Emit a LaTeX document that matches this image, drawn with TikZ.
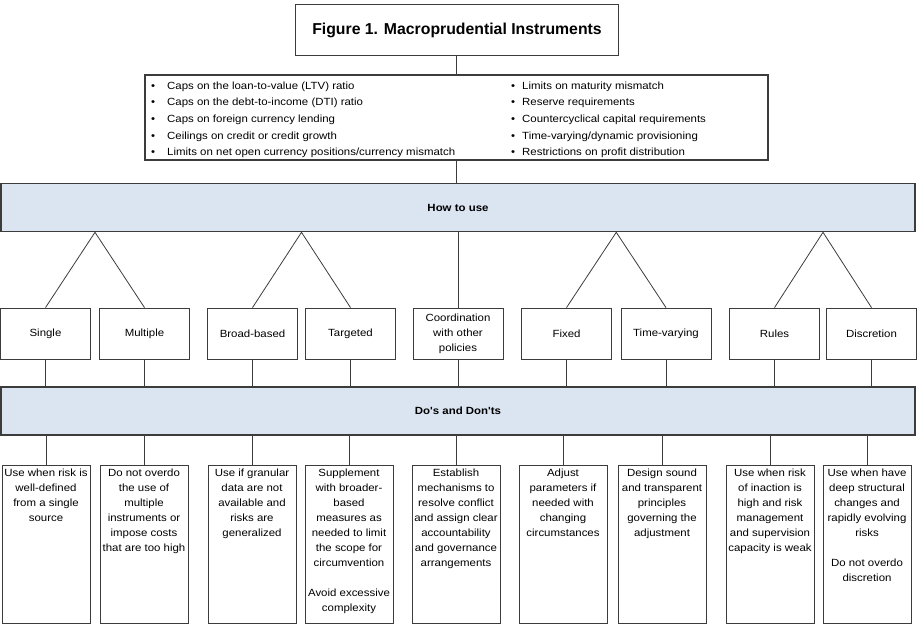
\documentclass[tikz,border=0pt]{standalone}
\usepackage{fontspec}
\setmainfont{Liberation Sans}
\newfontfamily\widesans{Liberation Sans}[FakeStretch=1.1]
\usetikzlibrary{positioning, calc}

\definecolor{bandfill}{RGB}{219,229,241}
\definecolor{edgegray}{RGB}{60,60,60}

% fixed-height text column for the lower boxes
\newcommand{\notetext}[1]{\parbox[t][150pt][t]{86pt}{\centering #1}}

\begin{document}
\begin{tikzpicture}[
    x=1pt, y=-1pt,
    every node/.style={inner sep=0pt},
    titlebox/.style={rectangle, draw=edgegray, line width=1.1pt, minimum width=323pt, minimum height=51pt, font=\fontsize{15.8}{18}\selectfont\bfseries},
    listbox/.style={rectangle, draw=edgegray, line width=1.1pt, minimum width=623pt, minimum height=85pt},
    item/.style={anchor=base west, font=\widesans\fontsize{10.4}{12}\selectfont},
    band/.style={rectangle, draw=edgegray, fill=bandfill, line width=1.6pt, minimum width=914pt, minimum height=48pt, font=\widesans\fontsize{10.4}{12}\selectfont\bfseries},
    option/.style={rectangle, draw=edgegray, line width=0.8pt, minimum width=90pt, minimum height=51pt, align=center, font=\widesans\fontsize{10.4}{15}\selectfont},
    note/.style={rectangle, draw=edgegray, line width=0.8pt, anchor=north, inner xsep=1pt, inner ysep=4pt, font=\widesans\fontsize{10.4}{15}\selectfont},
    link/.style={draw=edgegray, line width=0.8pt}
]
    \useasboundingbox (0,0) rectangle (923,625);

    % Title and list of instruments
    \node[titlebox] (title) at (457, 30) {Figure 1. Macroprudential Instruments};
    \node[listbox] (instr) at (456.5, 117.5) {};

    \foreach \txt [count=\i] in {Caps on the loan-to-value (LTV) ratio, Caps on the debt-to-income (DTI) ratio, Caps on foreign currency lending, Ceilings on credit or credit growth, Limits on net open currency positions/currency mismatch}
        \node[item] (left\i) at (151, {72.6+16.67*\i}) {\makebox[16pt][l]{\textbullet}\txt};
    \foreach \txt [count=\i] in {Limits on maturity mismatch, Reserve requirements, Countercyclical capital requirements, Time-varying/dynamic provisioning, Restrictions on profit distribution}
        \node[item] (right\i) at (511, {72.6+16.67*\i}) {\makebox[11pt][l]{\textbullet}\txt};

    % Bands
    \node[band] (howto) at (458, 207.5) {How to use};
    \node[band] (dos) at (458, 411) {Do's and Don'ts};

    % Options
    \foreach \name/\xpos/\txt in {single/45.5/Single, multiple/144.5/Multiple, broad/252.5/Broad-based, targeted/350.5/Targeted, coord/458/{Coordination\\with other\\policies}, fixed/566.5/Fixed, timevar/666/Time-varying, rules/774.5/Rules, discr/871.5/Discretion}
        \node[option] (\name) at (\xpos, 333.5) {\txt};

    % Do's and don'ts
    \foreach \name/\xpos/\txt in {
        n1/46/{Use when risk is\\well-defined\\from a single\\source},
        n2/144/{Do not overdo\\the use of\\multiple\\instruments or\\impose costs\\that are too high},
        n3/252/{Use if granular\\data are not\\available and\\risks are\\generalized},
        n4/349/{Supplement\\with broader-\\based\\measures as\\needed to limit\\the scope for\\circumvention\\[15pt]Avoid excessive\\complexity},
        n5/456/{Establish\\mechanisms to\\resolve conflict\\and assign clear\\accountability\\and governance\\arrangements},
        n6/563/{Adjust\\parameters if\\needed with\\changing\\circumstances},
        n7/662/{Design sound\\and transparent\\principles\\governing the\\adjustment},
        n8/770/{Use when risk\\of inaction is\\high and risk\\management\\and supervision\\capacity is weak},
        n9/867/{Use when have\\deep structural\\changes and\\rapidly evolving\\risks\\[15pt]Do not overdo\\discretion}}
        \node[note] (\name) at (\xpos, 465) {\notetext{\txt}};

    % Connectors
    \draw[link] (instr.north) -- (instr.north |- title.south);
    \draw[link] (instr.south) -- (instr.south |- howto.north);
    \foreach \a/\b in {single/multiple, broad/targeted, fixed/timevar, rules/discr} {
        \path ($(\a.north)!0.5!(\b.north)$) coordinate (mid-\a);
        \draw[link] (\a.north) -- (mid-\a |- howto.south) -- (\b.north);
    }
    \draw[link] (howto.south -| coord.north) -- (coord.north);
    \foreach \name in {single, multiple, broad, targeted, coord, fixed, timevar, rules, discr}
        \draw[link] (\name.south) -- (\name.south |- dos.north);
    \foreach \name in {n1, n2, n3, n4, n5, n6, n7, n8, n9}
        \draw[link] (\name.north) -- (\name.north |- dos.south);

\end{tikzpicture}
\end{document}
